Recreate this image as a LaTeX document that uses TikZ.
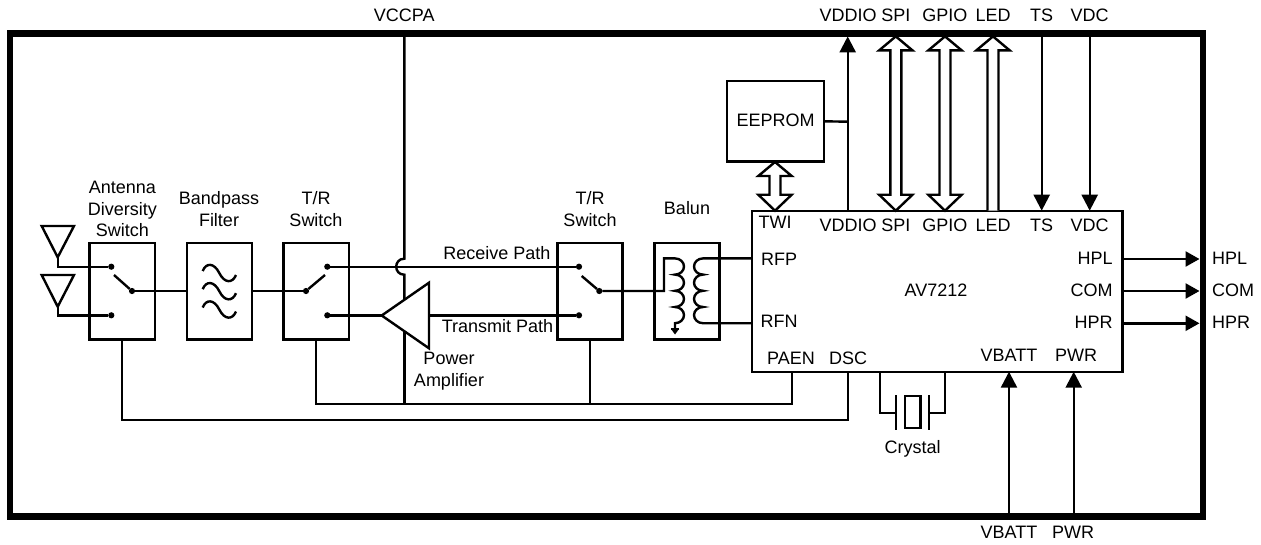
\documentclass[tikz,border=0pt]{standalone}
\usepackage{fontspec}
\setmainfont{Liberation Sans}
\usetikzlibrary{arrows.meta,calc}
\tikzset{
  wire/.style={line width=2.4pt,line join=miter},
  box/.style={draw,line width=2.4pt,rectangle,inner sep=0pt,outer sep=0pt},
  lbl/.style={font=\fontsize{18}{21.7}\selectfont,inner sep=0pt,outer sep=0pt,align=center,text=black},
  pin/.style={lbl,text height=13pt,text depth=0pt},
  headarrow/.style={wire,-{Triangle[length=16pt,width=16pt]}},
  sidearrow/.style={wire,-{Triangle[length=14pt,width=15pt]}},
  hollow/.style={line width=2.4pt,line join=miter,miter limit=10,fill=white},
  dot/.style={circle,fill=black,inner sep=0pt,outer sep=0pt,minimum size=6.2pt},
  antenna/.style={wire},
  plate/.style={wire},
}
\newcommand{\hollowboth}[3]{% x, top tip, bottom tip
  \draw[hollow] (#1,#2) -- ({#1+16.7},{#2+14}) -- ({#1+5.5},{#2+14}) -- ({#1+5.5},{#3-16}) -- ({#1+16.7},{#3-16}) -- (#1,#3) -- ({#1-16.7},{#3-16}) -- ({#1-5.5},{#3-16}) -- ({#1-5.5},{#2+14}) -- ({#1-16.7},{#2+14}) -- cycle;}
\begin{document}
\begin{tikzpicture}[x=1pt,y=-1pt]
\useasboundingbox (0,0) rectangle (1261,544);
% frame
\node[box,line width=6.7pt,minimum width=1193pt,minimum height=483.5pt] (frame) at (606.5,275) {};
% boxes
\node[box,minimum width=65.7pt,minimum height=96.6pt] (ads) at (122.2,291) {};
\node[box,minimum width=65pt,minimum height=96.6pt] (bpf) at (219.2,291) {};
\node[box,minimum width=65.4pt,minimum height=96.6pt] (tr1) at (316,291) {};
\node[box,minimum width=64.7pt,minimum height=96.6pt] (tr2) at (590,291) {};
\node[box,minimum width=65pt,minimum height=96.6pt] (balun) at (686.8,291) {};
\node[box,minimum width=370.6pt,minimum height=161pt] (chip) at (937,291.2) {};
\node[box,minimum width=97.3pt,minimum height=80.7pt] (eeprom) at (775.35,121.3) {};
% coordinates
\coordinate (vt) at (404.3,33);
\coordinate (hopT) at (404.3,258.7);
\coordinate (hopB) at (404.3,274.7);
\coordinate (vpa) at (404.3,300);
\coordinate (vpb) at (404.3,332);
\coordinate (busL) at (316,404);
\coordinate (bus) at (404.3,404);
\coordinate (busT2) at (590,404);
\coordinate (paen) at (791.7,371.7);
\coordinate (paenc) at (791.7,404);
\coordinate (dsc) at (848,371.7);
\coordinate (dscc) at (848,420);
\coordinate (adsc) at (122.2,420);
% antennas
\coordinate (ant1) at (57.7,257.3);
\coordinate (ant2) at (57.7,306.7);
\draw[antenna] (41.7,226) -- (74,226) -- (ant1) -- cycle;
\draw[antenna] (41.7,275) -- (74,275) -- (ant2) -- cycle;
\node[dot] (a1) at (111.3,266.7) {};
\node[dot] (a2) at (111.3,315.3) {};
\node[dot] (ap) at (132,291) {};
\coordinate (aarm) at (114,275);
\draw[wire] (ant1) |- (a1);
\draw[wire] (ant2) |- (a2);
\draw[wire] (ap) -- (aarm);
\draw[wire] (ap) -- (bpf.west);
% bandpass glyph
\foreach \yy in {273,291.2,309.5}{
  \draw[wire] (202.7,{\yy-2}) .. controls (206,{\yy-10.5}) and (214,{\yy-10.5}) .. (219.3,\yy) .. controls (224.5,{\yy+10.5}) and (232.5,{\yy+10.5}) .. (236,{\yy+2});
}
% T/R 1
\node[dot] (t1) at (327.3,266.7) {};
\node[dot] (t2) at (327.3,315.3) {};
\node[dot] (tp) at (306,291) {};
\coordinate (tarm) at (325,275);
\draw[wire] (tp) -- (tarm);
\draw[wire] (bpf.east) -- (tp);
% T/R 2
\node[dot] (u1) at (579,266.7) {};
\node[dot] (u2) at (579,315.3) {};
\node[dot] (up) at (599.3,291) {};
\coordinate (uarm) at (581.7,276);
\draw[wire] (up) -- (uarm);
% PA
\draw[wire] (t1) -- (u1);
\draw[wire] (vt) -- (hopT) .. controls (393.5,258.7) and (393.5,274.7) .. (hopB) -- (vpa);
\draw[wire] (vpb) -- (bus);
\draw[wire] (t2) -- (381.7,315.3);
\node[inner sep=0pt] (paout) at (429,315.3) {};
\draw[hollow] (381.7,315.5) -- (429,282.7) -- (429,348.3) -- cycle;
\draw[wire] (paout) -- (u2);
% balun
\coordinate (bl) at (664,258.4);
\draw[wire] (up) -| (bl) -- (675,258.4)
  arc[start angle=-90,end angle=90,x radius=9,y radius=8.1]
  arc[start angle=-90,end angle=90,x radius=9,y radius=8.1]
  arc[start angle=-90,end angle=90,x radius=9,y radius=8.1]
  arc[start angle=-90,end angle=90,x radius=9,y radius=8.1] -- (675,329);
\draw[wire] (671,329) -- (679,329);
\fill (671,329) -- (679,329) -- (675,334.5) -- cycle;
\coordinate (rfp) at (751.7,258.4);
\coordinate (rfn) at (751.7,323.2);
\draw[wire] (rfp) -- (703,258.4)
  arc[start angle=-90,end angle=-270,x radius=9,y radius=8.1]
  arc[start angle=-90,end angle=-270,x radius=9,y radius=8.1]
  arc[start angle=-90,end angle=-270,x radius=9,y radius=8.1]
  arc[start angle=-90,end angle=-270,x radius=9,y radius=8.1] -- (rfn);
% control buses
\draw[wire] (tr1.south) -- (busL) -- (paenc) -- (paen);
\draw[wire] (tr2.south) -- (busT2);
\draw[wire] (ads.south) -- (adsc) -- (dscc) -- (dsc);
% crystal
\node[box,minimum width=15.7pt,minimum height=32pt] (xtal) at (912.8,412) {};
\coordinate (xl) at (896,412.7);
\coordinate (xr) at (929,412.7);
\coordinate (xlt) at (880,371.7);
\coordinate (xrt) at (945,371.7);
\draw[plate] (896,395) -- (896,429.5);
\draw[plate] (929,395) -- (929,429.5);
\draw[wire] (xlt) |- (xl);
\draw[wire] (xrt) |- (xr);
% top pins
\coordinate (vddB) at (847.7,210.7);
\coordinate (vddT) at (847.7,36.4);
\coordinate (eeJ) at (847.7,121.7);
\draw[headarrow] (vddB) -- (vddT);
\draw[wire] (eeprom.east) -- (eeJ);
\hollowboth{895.8}{36.4}{210.7}
\hollowboth{945}{36.4}{210.7}
\draw[hollow] (987.5,210.7) -- (987.5,50.4) -- (976.3,50.4) -- (993,36.4) -- (1009.7,50.4) -- (998.5,50.4) -- (998.5,210.7);
\hollowboth{775}{162}{210.7}
\coordinate (tsT) at (1041.7,36);
\coordinate (tsB) at (1041.7,210.7);
\coordinate (vdcT) at (1089.7,36);
\coordinate (vdcB) at (1089.7,210.7);
\draw[headarrow] (tsT) -- (tsB);
\draw[headarrow] (vdcT) -- (vdcB);
% bottom pins
\coordinate (vbB) at (1009,513.4);
\coordinate (vbT) at (1009,371.7);
\coordinate (pwB) at (1073.7,513.4);
\coordinate (pwT) at (1073.7,371.7);
\draw[headarrow] (vbB) -- (vbT);
\draw[headarrow] (pwB) -- (pwT);
% right pins
\coordinate (hplA) at (1122.3,259);
\coordinate (comA) at (1122.3,291);
\coordinate (hprA) at (1122.3,323.3);
\coordinate (hplB) at (1199.5,259);
\coordinate (comB) at (1199.5,291);
\coordinate (hprB) at (1199.5,323.3);
\draw[sidearrow] (hplA) -- (hplB);
\draw[sidearrow] (comA) -- (comB);
\draw[sidearrow] (hprA) -- (hprB);
% labels
\node[pin] (l1) at (404.3,15) {VCCPA};
\node[pin] (l2) at (848,15) {VDDIO};
\node[pin] (l3) at (895.8,15) {SPI};
\node[pin] (l4) at (944.8,15) {GPIO};
\node[pin] (l5) at (993,15) {LED};
\node[pin] (l6) at (1041.7,15) {TS};
\node[pin] (l7) at (1089.7,15) {VDC};
\node[pin] (i1) at (775,221.7) {TWI};
\node[pin] (i2) at (848,225) {VDDIO};
\node[pin] (i3) at (895.8,225) {SPI};
\node[pin] (i4) at (944.8,225) {GPIO};
\node[pin] (i5) at (993,225) {LED};
\node[pin] (i6) at (1041.7,225) {TS};
\node[pin] (i7) at (1089.7,225) {VDC};
\node[pin] (i8) at (779,259) {RFP};
\node[pin] (i9) at (779,321) {RFN};
\node[pin] (i10) at (791,358) {PAEN};
\node[pin] (i11) at (848,358) {DSC};
\node[pin] (i12) at (1009,355) {VBATT};
\node[pin] (i13) at (1076,355) {PWR};
\node[pin,anchor=east] (i14) at (1112.7,258) {HPL};
\node[pin,anchor=east] (i15) at (1112.7,290) {COM};
\node[pin,anchor=east] (i16) at (1112.7,322) {HPR};
\node[pin] (ic) at (936,290) {AV7212};
\node[pin] (ee) at (775.7,120) {EEPROM};
\node[pin,anchor=west] (o1) at (1212,258) {HPL};
\node[pin,anchor=west] (o2) at (1212,290) {COM};
\node[pin,anchor=west] (o3) at (1212,322) {HPR};
\node[pin] (b1) at (1009,532) {VBATT};
\node[pin] (b2) at (1073,532) {PWR};
\node[pin] (xt) at (912.7,447) {Crystal};
\node[pin] (rp) at (497,253) {Receive Path};
\node[pin] (tx) at (497.5,326) {Transmit Path};
\node[lbl] (pa) at (449,371) {Power\\Amplifier};
\node[lbl] (n1) at (122.3,209) {Antenna\\Diversity\\Switch};
\node[lbl] (n2) at (219,209) {Bandpass\\Filter};
\node[lbl] (n3) at (316,209) {T/R\\Switch};
\node[lbl] (n4) at (590,209) {T/R\\Switch};
\node[pin] (n5) at (687,208) {Balun};
\end{tikzpicture}
\end{document}
